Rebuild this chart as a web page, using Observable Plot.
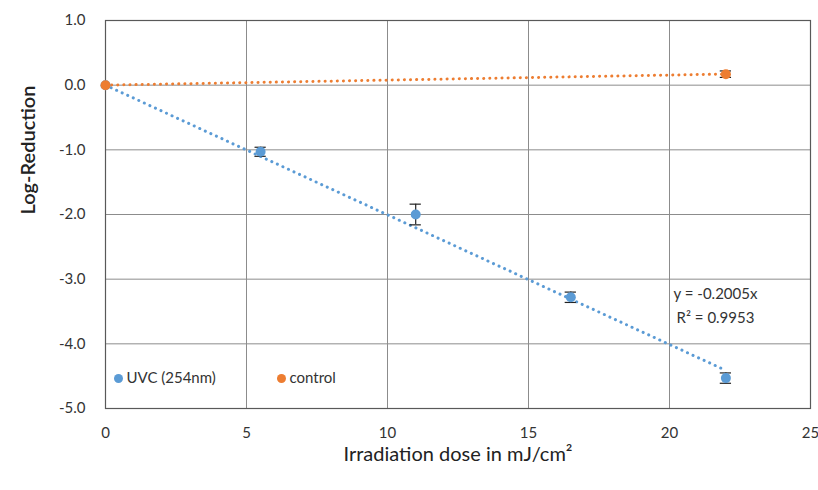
<!DOCTYPE html>
<html><head><meta charset="utf-8">
<script src="https://cdn.jsdelivr.net/npm/d3@7"></script>
<script src="https://cdn.jsdelivr.net/npm/@observablehq/plot@0.6"></script>
<style>body{margin:0;background:#fff;font-family:Lato,"Open Sans",sans-serif;}</style>
</head><body><div id="chart"></div>
<script>
const doseUVC = [0, 5.5, 11, 16.5, 22];
const logUVC = [0, -1.03, -2.0, -3.28, -4.53];
const errUVC = [0, 0.07, 0.16, 0.08, 0.08];
const doseCtrl = [0, 22];
const logCtrl = [0, 0.17];
const errCtrl = [0, 0.05];
const slopeUVC = -0.2005;
const slopeCtrl = 0.0078;
const xTicks = [0, 5, 10, 15, 20, 25];
const yTicks = [1, 0, -1, -2, -3, -4, -5];
const eqLines = ["y = -0.2005x", "R² = 0.9953"];
const seriesNames = ["UVC (254nm)", "control"];
const colors = ["#5B9BD5", "#ED7D31"];

const uvc = doseUVC.map((x, i) => ({x, y: logUVC[i], e: errUVC[i]}));
const ctrl = doseCtrl.map((x, i) => ({x, y: logCtrl[i], e: errCtrl[i]}));
const trendUVC = [0, 22].map(x => ({x, y: slopeUVC * x}));
const trendCtrl = [0, 22].map(x => ({x, y: slopeCtrl * x}));
const cap = 0.2;
const errs = [...uvc, ...ctrl].filter(d => d.e > 0);
const txt = {fontSize: 15, fill: "#333", lineAnchor: "middle"};

const chart = Plot.plot({
  width: 818, height: 490,
  marginLeft: 105, marginRight: 8, marginTop: 20, marginBottom: 82,
  style: {fontFamily: "Lato, 'Open Sans', sans-serif", fontSize: "15px", color: "#333"},
  x: {domain: [0, 25], ticks: xTicks, tickSize: 0, tickPadding: 19, label: null},
  y: {domain: [-5, 1], ticks: yTicks, tickSize: 0, tickPadding: 20, tickFormat: d => d.toFixed(1), label: null},
  marks: [
    Plot.gridX(xTicks, {stroke: "#8c8c8c", strokeOpacity: 1, strokeWidth: 1}),
    Plot.gridY(yTicks, {stroke: "#8c8c8c", strokeOpacity: 1, strokeWidth: 1}),
    Plot.frame({stroke: "#595959", strokeWidth: 1.2}),
    Plot.line(trendUVC, {x: "x", y: "y", stroke: colors[0], strokeWidth: 3, strokeDasharray: "0.1,6", strokeLinecap: "round"}),
    Plot.line(trendCtrl, {x: "x", y: "y", stroke: colors[1], strokeWidth: 3, strokeDasharray: "0.1,6", strokeLinecap: "round"}),
    Plot.ruleX(errs, {x: "x", y1: d => d.y - d.e, y2: d => d.y + d.e, stroke: "#222", strokeWidth: 1.2}),
    Plot.ruleY(errs, {y: d => d.y - d.e, x1: d => d.x - cap, x2: d => d.x + cap, stroke: "#222", strokeWidth: 1.2}),
    Plot.ruleY(errs, {y: d => d.y + d.e, x1: d => d.x - cap, x2: d => d.x + cap, stroke: "#222", strokeWidth: 1.2}),
    Plot.dot(uvc, {x: "x", y: "y", r: 5, fill: colors[0], stroke: "none"}),
    Plot.dot(ctrl, {x: "x", y: "y", r: 5, fill: colors[1], stroke: "none"}),
    Plot.text([eqLines[0]], {...txt, text: d => d, frameAnchor: "top-right", dx: -95, dy: 274, textAnchor: "middle"}),
    Plot.text([eqLines[1]], {...txt, text: d => d, frameAnchor: "top-right", dx: -95, dy: 298, textAnchor: "middle"}),
    // legend
    Plot.dot([seriesNames[0]], {frameAnchor: "bottom-left", dx: 13, dy: -30, r: 4.5, fill: colors[0]}),
    Plot.text([seriesNames[0]], {...txt, text: d => d, frameAnchor: "bottom-left", dx: 21, dy: -30, textAnchor: "start"}),
    Plot.dot([seriesNames[1]], {frameAnchor: "bottom-left", dx: 176, dy: -30, r: 4.5, fill: colors[1]}),
    Plot.text([seriesNames[1]], {...txt, text: d => d, frameAnchor: "bottom-left", dx: 184, dy: -30, textAnchor: "start"}),
    // axis titles
    Plot.text(["Log-Reduction"], {text: d => d, frameAnchor: "left", dx: -77, rotate: -90, fontSize: 20, fontWeight: 600, fill: "#222", lineAnchor: "middle"}),
    Plot.text(["Irradiation dose in mJ/cm²"], {text: d => d, frameAnchor: "bottom", dy: 46, fontSize: 20, fill: "#222", lineAnchor: "middle"})
  ]
});
document.getElementById("chart").appendChild(chart);
</script></body></html>
